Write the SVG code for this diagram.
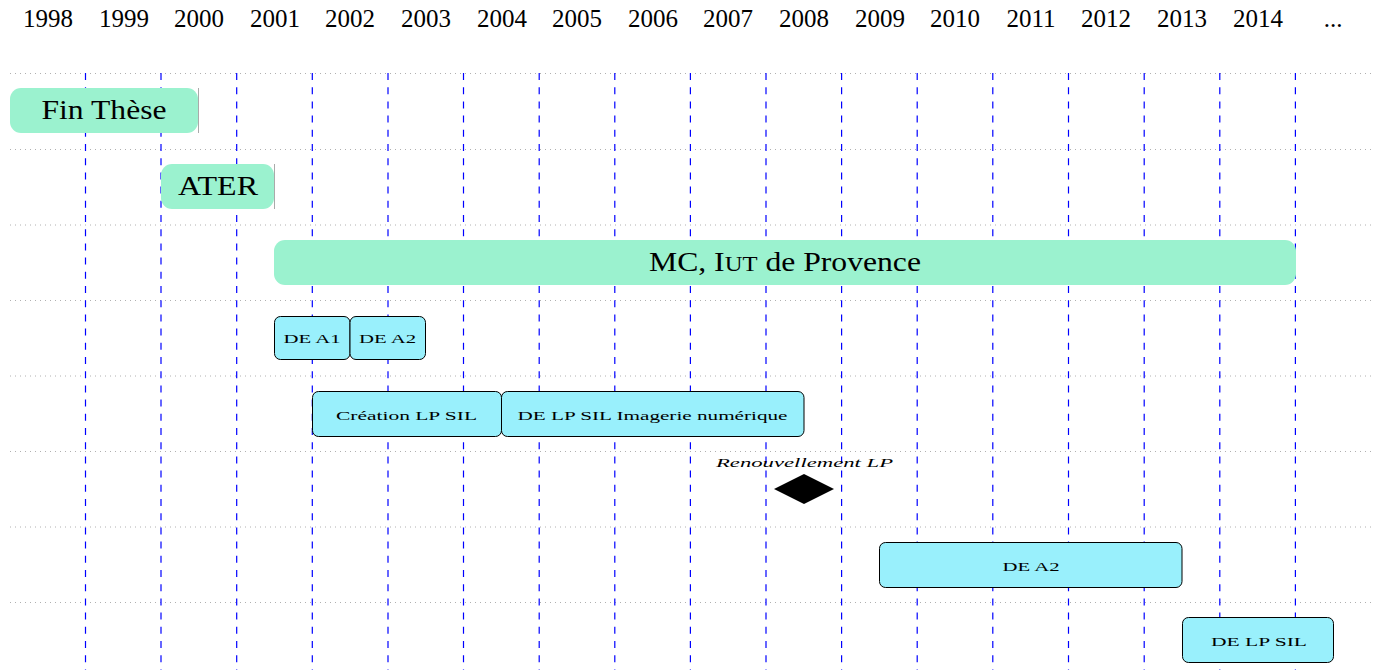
<svg xmlns="http://www.w3.org/2000/svg" width="1378" height="670" viewBox="0 0 1378 670">
<style>
.yr{font-family:"Liberation Serif",serif;font-size:25px;fill:#000;text-anchor:middle}
.big{font-family:"Liberation Serif",serif;font-size:27px;fill:#000;text-anchor:middle}
.sm{font-family:"Liberation Serif",serif;font-size:13px;fill:#000;text-anchor:middle}
.it{font-family:"Liberation Serif",serif;font-size:13px;font-style:italic;fill:#000;text-anchor:middle}
.hg{stroke:#b0b0b0;stroke-width:1;stroke-dasharray:1 4;fill:none}
.vg{stroke:#0000ff;stroke-width:1.2;stroke-dasharray:7 7.2;fill:none}
.grn{fill:#9bf2cf}
.cy{fill:#99f0fc;stroke:#000;stroke-width:1}
.edge{stroke:#aaa;stroke-width:1}
</style>
<rect width="1378" height="670" fill="#fff"/>
<g id="years">
<text class="yr" x="48" y="27">1998</text>
<text class="yr" x="124" y="27">1999</text>
<text class="yr" x="199" y="27">2000</text>
<text class="yr" x="275" y="27">2001</text>
<text class="yr" x="350" y="27">2002</text>
<text class="yr" x="426" y="27">2003</text>
<text class="yr" x="502" y="27">2004</text>
<text class="yr" x="577" y="27">2005</text>
<text class="yr" x="653" y="27">2006</text>
<text class="yr" x="728" y="27">2007</text>
<text class="yr" x="804" y="27">2008</text>
<text class="yr" x="880" y="27">2009</text>
<text class="yr" x="955" y="27">2010</text>
<text class="yr" x="1031" y="27">2011</text>
<text class="yr" x="1106" y="27">2012</text>
<text class="yr" x="1182" y="27">2013</text>
<text class="yr" x="1258" y="27">2014</text>
<text class="yr" x="1333" y="27">...</text>
</g>
<g id="grid">
<line class="hg" x1="10" y1="73.5" x2="1372" y2="73.5"/>
<line class="hg" x1="10" y1="149.5" x2="1372" y2="149.5"/>
<line class="hg" x1="10" y1="225" x2="1372" y2="225"/>
<line class="hg" x1="10" y1="300.5" x2="1372" y2="300.5"/>
<line class="hg" x1="10" y1="376" x2="1372" y2="376"/>
<line class="hg" x1="10" y1="451.5" x2="1372" y2="451.5"/>
<line class="hg" x1="10" y1="527" x2="1372" y2="527"/>
<line class="hg" x1="10" y1="602.5" x2="1372" y2="602.5"/>
<line class="vg" x1="85.5" y1="73" x2="85.5" y2="670"/>
<line class="vg" x1="161" y1="73" x2="161" y2="670"/>
<line class="vg" x1="236.7" y1="73" x2="236.7" y2="670"/>
<line class="vg" x1="312.3" y1="73" x2="312.3" y2="670"/>
<line class="vg" x1="388" y1="73" x2="388" y2="670"/>
<line class="vg" x1="463.5" y1="73" x2="463.5" y2="670"/>
<line class="vg" x1="539.2" y1="73" x2="539.2" y2="670"/>
<line class="vg" x1="614.8" y1="73" x2="614.8" y2="670"/>
<line class="vg" x1="690.4" y1="73" x2="690.4" y2="670"/>
<line class="vg" x1="766" y1="73" x2="766" y2="670"/>
<line class="vg" x1="841.6" y1="73" x2="841.6" y2="670"/>
<line class="vg" x1="917.2" y1="73" x2="917.2" y2="670"/>
<line class="vg" x1="992.8" y1="73" x2="992.8" y2="670"/>
<line class="vg" x1="1068.5" y1="73" x2="1068.5" y2="670"/>
<line class="vg" x1="1144.2" y1="73" x2="1144.2" y2="670"/>
<line class="vg" x1="1219.8" y1="73" x2="1219.8" y2="670"/>
<line class="vg" x1="1295.4" y1="73" x2="1295.4" y2="670"/>
</g>
<g id="fin-these">
<rect class="grn" x="10" y="88" width="188" height="45" rx="11"/>
<line class="edge" x1="198.5" y1="88" x2="198.5" y2="133"/>
<text class="big" x="104" y="119" textLength="125" lengthAdjust="spacingAndGlyphs">Fin Thèse</text>
</g>
<g id="ater">
<rect class="grn" x="161" y="164" width="113" height="45" rx="11"/>
<line class="edge" x1="274.5" y1="164" x2="274.5" y2="209"/>
<text class="big" x="218" y="195" textLength="80" lengthAdjust="spacingAndGlyphs">ATER</text>
</g>
<g id="mc">
<rect class="grn" x="274" y="240" width="1022" height="45" rx="11"/>
<text class="big" x="785" y="271" textLength="272" lengthAdjust="spacingAndGlyphs">MC, I<tspan font-size="21">UT</tspan> de Provence</text>
</g>
<g id="de-a1">
<rect class="cy" x="274.5" y="316.5" width="75.5" height="43" rx="6"/>
<text class="sm" x="312" y="343" textLength="57" lengthAdjust="spacingAndGlyphs">DE A1</text>
</g>
<g id="de-a2-top">
<rect class="cy" x="350" y="316.5" width="75.5" height="43" rx="6"/>
<text class="sm" x="387.5" y="343" textLength="57" lengthAdjust="spacingAndGlyphs">DE A2</text>
</g>
<g id="creation-lp">
<rect class="cy" x="312.5" y="391.5" width="189" height="45" rx="6"/>
<text class="sm" x="406.5" y="420" textLength="141" lengthAdjust="spacingAndGlyphs">Création LP SIL</text>
</g>
<g id="de-lp-imagerie">
<rect class="cy" x="501.5" y="391.5" width="302.5" height="45" rx="6"/>
<text class="sm" x="652.5" y="420" textLength="270" lengthAdjust="spacingAndGlyphs">DE LP SIL Imagerie numérique</text>
</g>
<g id="renouvellement">
<text class="it" x="804.5" y="467" textLength="177" lengthAdjust="spacingAndGlyphs">Renouvellement LP</text>
<polygon points="774,489 804,474 834,489 804,504" fill="#000"/>
</g>
<g id="de-a2-bottom">
<rect class="cy" x="879.5" y="542.5" width="302.5" height="45" rx="6"/>
<text class="sm" x="1031" y="571" textLength="57" lengthAdjust="spacingAndGlyphs">DE A2</text>
</g>
<g id="de-lp-sil">
<rect class="cy" x="1182.5" y="617.5" width="151" height="45" rx="6"/>
<text class="sm" x="1259" y="646" textLength="96" lengthAdjust="spacingAndGlyphs">DE LP SIL</text>
</g>
<g id="connectors"></g>
</svg>
